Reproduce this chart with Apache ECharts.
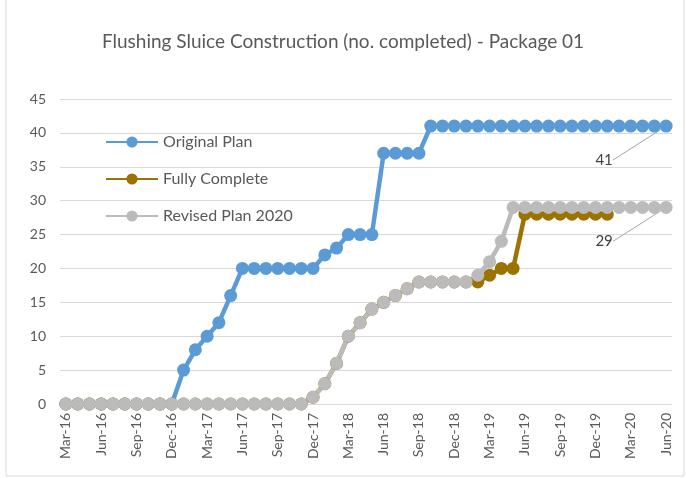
<!DOCTYPE html>
<html>
<head>
<meta charset="utf-8">
<script src="https://cdn.jsdelivr.net/npm/echarts@6/dist/echarts.min.js"></script>
<style>
  html, body { margin: 0; padding: 0; background: #fff; }
  #chart { width: 686px; height: 478px; }
</style>
</head>
<body>
<div id="chart"></div>
<script>
// months Mar-16 .. Jun-20
var months = [
  'Mar-16', 'Apr-16', 'May-16', 'Jun-16', 'Jul-16', 'Aug-16', 'Sep-16', 'Oct-16', 'Nov-16', 'Dec-16',
  'Jan-17', 'Feb-17', 'Mar-17', 'Apr-17', 'May-17', 'Jun-17', 'Jul-17', 'Aug-17', 'Sep-17', 'Oct-17', 'Nov-17', 'Dec-17',
  'Jan-18', 'Feb-18', 'Mar-18', 'Apr-18', 'May-18', 'Jun-18', 'Jul-18', 'Aug-18', 'Sep-18', 'Oct-18', 'Nov-18', 'Dec-18',
  'Jan-19', 'Feb-19', 'Mar-19', 'Apr-19', 'May-19', 'Jun-19', 'Jul-19', 'Aug-19', 'Sep-19', 'Oct-19', 'Nov-19', 'Dec-19',
  'Jan-20', 'Feb-20', 'Mar-20', 'Apr-20', 'May-20', 'Jun-20'
];

var originalPlan = [
  0, 0, 0, 0, 0, 0, 0, 0, 0, 0,
  5, 8, 10, 12, 16, 20, 20, 20, 20, 20, 20, 20,
  22, 23, 25, 25, 25, 37, 37, 37, 37, 41, 41, 41,
  41, 41, 41, 41, 41, 41, 41, 41, 41, 41, 41, 41,
  41, 41, 41, 41, 41, 41
];

var fullyComplete = [
  0, 0, 0, 0, 0, 0, 0, 0, 0, 0,
  0, 0, 0, 0, 0, 0, 0, 0, 0, 0, 0, 1,
  3, 6, 10, 12, 14, 15, 16, 17, 18, 18, 18, 18,
  18, 18, 19, 20, 20, 28, 28, 28, 28, 28, 28, 28,
  28, null, null, null, null, null
];

var revisedPlan = [
  0, 0, 0, 0, 0, 0, 0, 0, 0, 0,
  0, 0, 0, 0, 0, 0, 0, 0, 0, 0, 0, 1,
  3, 6, 10, 12, 14, 15, 16, 17, 18, 18, 18, 18,
  18, 19, 21, 24, 29, 29, 29, 29, 29, 29, 29, 29,
  29, 29, 29, 29, 29, 29
];

var FONT = 'Lato, "Open Sans", sans-serif';
var TXT = '#595959';

// only the last point gets a data label (with leader line)
var withEndLabel = function(arr) {
  return arr.map(function(v, i) {
    if (i === arr.length - 1) {
      return { value: v, label: { show: true } };
    }
    return v;
  });
};

var makeSeries = function(name, data, color, labelled) {
  var s = {
    name: name,
    type: 'line',
    data: labelled ? withEndLabel(data) : data,
    symbol: 'circle',
    symbolSize: 13,
    showSymbol: true,
    showAllSymbol: true,
    lineStyle: { width: 4.5, color: color },
    itemStyle: { color: color },
    emphasis: { disabled: true },
    animation: false
  };
  if (labelled) {
    s.label = {
      show: false,
      position: 'inside',
      color: '#404040',
      fontSize: 15,
      fontFamily: FONT
    };
    s.labelLine = { show: true, lineStyle: { color: '#a6a6a6', width: 1 } };
    s.labelLayout = { dx: -62, dy: 34 };
  }
  return s;
};

var chart = echarts.init(document.getElementById('chart'));

var option = {
  backgroundColor: '#fff',
  title: {
    text: 'Flushing Sluice Construction (no. completed) - Package 01',
    left: 'center',
    top: 27,
    textStyle: { color: TXT, fontSize: 19, fontWeight: 'normal', fontFamily: FONT }
  },
  legend: {
    orient: 'vertical',
    left: 100,
    top: 129,
    itemWidth: 52,
    itemHeight: 14,
    itemGap: 21,
    selectedMode: false,
    textStyle: { color: TXT, fontSize: 16, fontFamily: FONT },
    data: ['Original Plan', 'Fully Complete', 'Revised Plan 2020']
  },
  grid: { left: 60, right: 14, top: 99, bottom: 74 },
  xAxis: {
    type: 'category',
    data: months,
    boundaryGap: true,
    axisLine: { lineStyle: { color: '#d9d9d9', width: 1 } },
    axisTick: { show: false },
    axisLabel: {
      interval: 2,
      rotate: 90,
      margin: 9,
      color: TXT,
      fontSize: 14,
      fontFamily: FONT
    }
  },
  yAxis: {
    type: 'value',
    min: 0,
    max: 45,
    interval: 5,
    axisLine: { show: false },
    axisTick: { show: false },
    axisLabel: { color: TXT, fontSize: 14, fontFamily: FONT, margin: 14 },
    splitLine: { lineStyle: { color: '#d9d9d9', width: 1 } }
  },
  series: [
    makeSeries('Original Plan', originalPlan, '#5b9bd5', true),
    makeSeries('Fully Complete', fullyComplete, '#9c7200', false),
    makeSeries('Revised Plan 2020', revisedPlan, '#bbbbbb', true)
  ],
  graphic: [{
    type: 'rect',
    shape: { x: 6, y: -2, width: 678, height: 478 },
    style: { fill: 'none', stroke: '#d9d9d9', lineWidth: 1 },
    silent: true
  }]
};

chart.setOption(option);
</script>
</body>
</html>
